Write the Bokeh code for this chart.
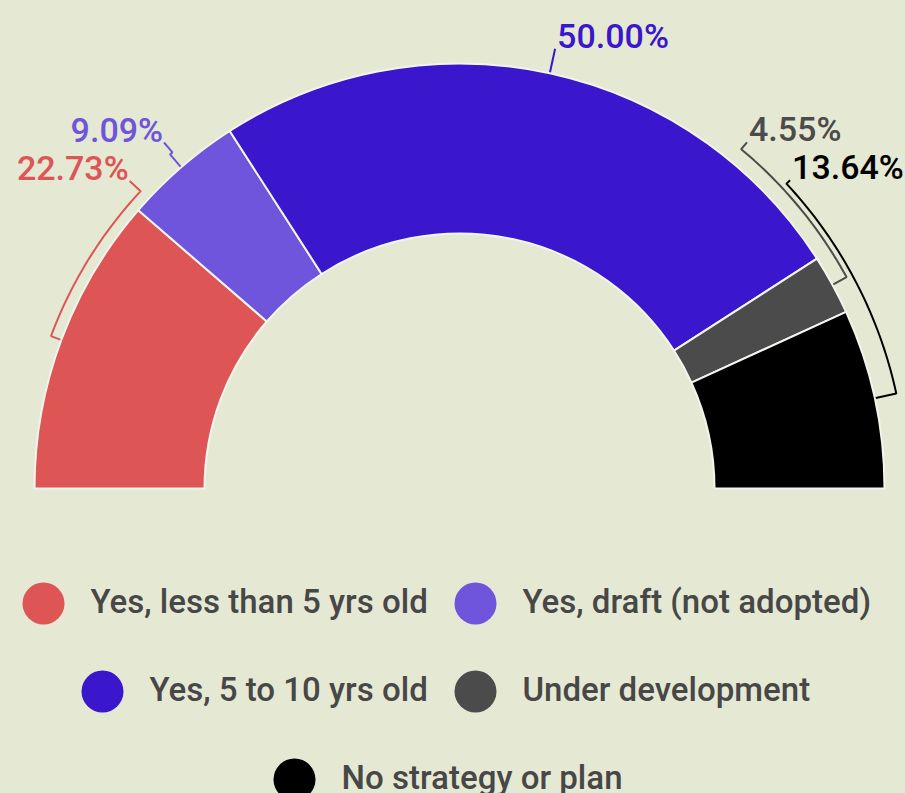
import numpy as np
from bokeh.plotting import figure
from bokeh.models import Range1d, GlobalInlineStyleSheet
from bokeh.core.properties import value
from bokeh.embed import file_html
from bokeh.resources import INLINE

# ---------------- data ----------------
categories = ["Yes, less than 5 yrs old", "Yes, draft (not adopted)",
              "Yes, 5 to 10 yrs old", "Under development", "No strategy or plan"]
shares = [22.73, 9.09, 50.00, 4.55, 13.64]
colors = ["#dd5555", "#6e55db", "#3a16cc", "#4b4b4b", "#000000"]

# ---------------- layout ----------------
W, H = 905, 793
BG = "#e5e9d3"
CX, CY = 459, H - 488
R_OUT, R_IN = 425, 255
# label placement (angle in degrees; None = slice middle), bracket radius, tip radius
label_angle = [137.0, 130.5, None, 50.3, 43.0]
bracket_r = [436, 442, None, 441, 447]
tip_r = [451, 455, 450, 450, 452]
TICK_R0 = 426
LABEL_PX = 34
BASE_SHIFT = 0.38  # baseline correction (em)
# legend layout (pixel positions from top-left)
leg_cx = [43, 475, 102, 475, 294]
leg_cy = [603, 603, 691, 691, 779]
LEG_GAP = 47
LEG_PX = 33

p = figure(width=W, height=H, x_range=Range1d(0, W), y_range=Range1d(0, H),
           output_backend="svg", toolbar_location=None, min_border=0)
p.axis.visible = False
p.grid.visible = False
p.outline_line_color = None
p.background_fill_color = BG
p.border_fill_color = BG
p.stylesheets = [GlobalInlineStyleSheet(css=f"body{{margin:0;background:{BG};}}")]

total = float(sum(shares))
cum = np.concatenate([[0.0], np.cumsum(shares)]) / total
start_cw = np.pi - np.pi * cum[:-1]
end_cw = np.pi - np.pi * cum[1:]

p.annular_wedge(x=CX, y=CY, inner_radius=R_IN, outer_radius=R_OUT,
                start_angle=list(end_cw), end_angle=list(start_cw),
                direction="anticlock", fill_color=colors,
                line_color="#f4f4ef", line_width=2)

# leader lines + labels
for i, s in enumerate(shares):
    mid = (start_cw[i] + end_cw[i]) / 2
    la = mid if label_angle[i] is None else np.radians(label_angle[i])
    xs, ys = [], []
    if bracket_r[i] is None:
        for r in (TICK_R0, tip_r[i]):
            xs.append(CX + r * np.cos(mid)); ys.append(CY + r * np.sin(mid))
    else:
        xs.append(CX + TICK_R0 * np.cos(mid)); ys.append(CY + TICK_R0 * np.sin(mid))
        for a in np.linspace(mid, la, 40):
            xs.append(CX + bracket_r[i] * np.cos(a)); ys.append(CY + bracket_r[i] * np.sin(a))
        xs.append(CX + tip_r[i] * np.cos(la)); ys.append(CY + tip_r[i] * np.sin(la))
    p.line(xs, ys, line_color=colors[i], line_width=2)
    left = la > np.pi / 2
    p.text(x=[xs[-1] + (-1 if left else 2)], y=[ys[-1] + BASE_SHIFT * LABEL_PX],
           text=[f"{s:.2f}%"],
           text_align="right" if left else "left", text_baseline="alphabetic",
           text_color=colors[i], text_font=value("Roboto Medium"),
           text_font_size=f"{LABEL_PX}px")

# legend
p.scatter(x=leg_cx, y=[H - y for y in leg_cy], size=42, marker="circle",
          fill_color=colors, line_color=None)
p.text(x=[x + LEG_GAP for x in leg_cx],
       y=[H - y - 11 + BASE_SHIFT * LEG_PX for y in leg_cy],
       text=categories, text_align="left", text_baseline="alphabetic",
       text_color="#474747", text_font=value("Roboto Medium"),
       text_font_size=f"{LEG_PX}px")

open("out.html", "w").write(file_html(p, INLINE))
